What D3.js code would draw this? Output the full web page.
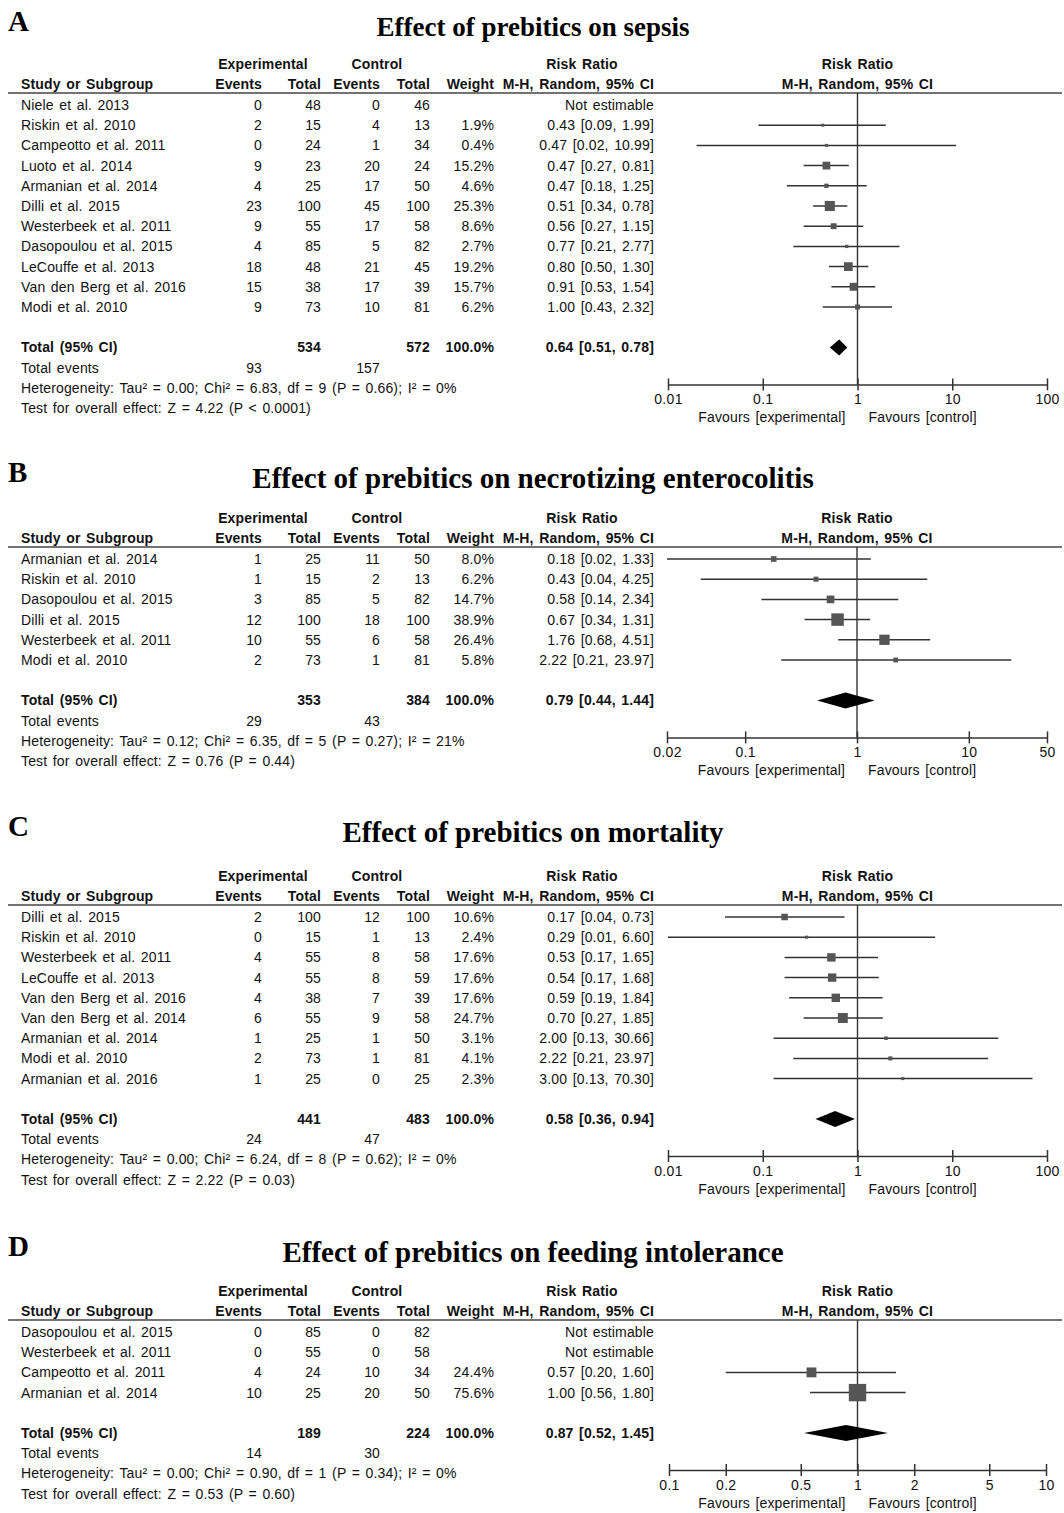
<!DOCTYPE html>
<html>
<head>
<meta charset="utf-8">
<script src="https://cdn.jsdelivr.net/npm/d3@7"></script>
<style>
  body { margin: 0; background: #fff; }
  text { font-family: "Liberation Sans", Arial, sans-serif; fill: #111; }
</style>
</head>
<body>
<div id="main"></div>
<script>

// ---- data ----

// A: sepsis
const sepsisStudy = ['Niele et al. 2013', 'Riskin et al. 2010', 'Campeotto et al. 2011', 'Luoto et al. 2014', 'Armanian et al. 2014', 'Dilli et al. 2015', 'Westerbeek et al. 2011', 'Dasopoulou et al. 2015', 'LeCouffe et al. 2013', 'Van den Berg et al. 2016', 'Modi et al. 2010'];
const sepsisExpEvents = [0, 2, 0, 9, 4, 23, 9, 4, 18, 15, 9];
const sepsisExpTotal = [48, 15, 24, 23, 25, 100, 55, 85, 48, 38, 73];
const sepsisCtrlEvents = [0, 4, 1, 20, 17, 45, 17, 5, 21, 17, 10];
const sepsisCtrlTotal = [46, 13, 34, 24, 50, 100, 58, 82, 45, 39, 81];
const sepsisWeight = [null, 1.9, 0.4, 15.2, 4.6, 25.3, 8.6, 2.7, 19.2, 15.7, 6.2];
const sepsisRR = [null, 0.43, 0.47, 0.47, 0.47, 0.51, 0.56, 0.77, 0.80, 0.91, 1.00];
const sepsisLow = [null, 0.09, 0.02, 0.27, 0.18, 0.34, 0.27, 0.21, 0.50, 0.53, 0.43];
const sepsisHigh = [null, 1.99, 10.99, 0.81, 1.25, 0.78, 1.15, 2.77, 1.30, 1.54, 2.32];
const sepsisTotals = [534, 572, 93, 157];
const sepsisPooled = [0.64, 0.51, 0.78];
const sepsisHetero = 'Heterogeneity: Tau\u00b2 = 0.00; Chi\u00b2 = 6.83, df = 9 (P = 0.66); I\u00b2 = 0%';
const sepsisTest = 'Test for overall effect: Z = 4.22 (P < 0.0001)';
const sepsisTicks = [0.01, 0.1, 1, 10, 100];

// B: necrotizing enterocolitis
const necStudy = ['Armanian et al. 2014', 'Riskin et al. 2010', 'Dasopoulou et al. 2015', 'Dilli et al. 2015', 'Westerbeek et al. 2011', 'Modi et al. 2010'];
const necExpEvents = [1, 1, 3, 12, 10, 2];
const necExpTotal = [25, 15, 85, 100, 55, 73];
const necCtrlEvents = [11, 2, 5, 18, 6, 1];
const necCtrlTotal = [50, 13, 82, 100, 58, 81];
const necWeight = [8.0, 6.2, 14.7, 38.9, 26.4, 5.8];
const necRR = [0.18, 0.43, 0.58, 0.67, 1.76, 2.22];
const necLow = [0.02, 0.04, 0.14, 0.34, 0.68, 0.21];
const necHigh = [1.33, 4.25, 2.34, 1.31, 4.51, 23.97];
const necTotals = [353, 384, 29, 43];
const necPooled = [0.79, 0.44, 1.44];
const necHetero = 'Heterogeneity: Tau\u00b2 = 0.12; Chi\u00b2 = 6.35, df = 5 (P = 0.27); I\u00b2 = 21%';
const necTest = 'Test for overall effect: Z = 0.76 (P = 0.44)';
const necTicks = [0.02, 0.1, 1, 10, 50];

// C: mortality
const mortStudy = ['Dilli et al. 2015', 'Riskin et al. 2010', 'Westerbeek et al. 2011', 'LeCouffe et al. 2013', 'Van den Berg et al. 2016', 'Van den Berg et al. 2014', 'Armanian et al. 2014', 'Modi et al. 2010', 'Armanian et al. 2016'];
const mortExpEvents = [2, 0, 4, 4, 4, 6, 1, 2, 1];
const mortExpTotal = [100, 15, 55, 55, 38, 55, 25, 73, 25];
const mortCtrlEvents = [12, 1, 8, 8, 7, 9, 1, 1, 0];
const mortCtrlTotal = [100, 13, 58, 59, 39, 58, 50, 81, 25];
const mortWeight = [10.6, 2.4, 17.6, 17.6, 17.6, 24.7, 3.1, 4.1, 2.3];
const mortRR = [0.17, 0.29, 0.53, 0.54, 0.59, 0.70, 2.00, 2.22, 3.00];
const mortLow = [0.04, 0.01, 0.17, 0.17, 0.19, 0.27, 0.13, 0.21, 0.13];
const mortHigh = [0.73, 6.60, 1.65, 1.68, 1.84, 1.85, 30.66, 23.97, 70.30];
const mortTotals = [441, 483, 24, 47];
const mortPooled = [0.58, 0.36, 0.94];
const mortHetero = 'Heterogeneity: Tau\u00b2 = 0.00; Chi\u00b2 = 6.24, df = 8 (P = 0.62); I\u00b2 = 0%';
const mortTest = 'Test for overall effect: Z = 2.22 (P = 0.03)';
const mortTicks = [0.01, 0.1, 1, 10, 100];

// D: feeding intolerance
const feedStudy = ['Dasopoulou et al. 2015', 'Westerbeek et al. 2011', 'Campeotto et al. 2011', 'Armanian et al. 2014'];
const feedExpEvents = [0, 0, 4, 10];
const feedExpTotal = [85, 55, 24, 25];
const feedCtrlEvents = [0, 0, 10, 20];
const feedCtrlTotal = [82, 58, 34, 50];
const feedWeight = [null, null, 24.4, 75.6];
const feedRR = [null, null, 0.57, 1.00];
const feedLow = [null, null, 0.20, 0.56];
const feedHigh = [null, null, 1.60, 1.80];
const feedTotals = [189, 224, 14, 30];
const feedPooled = [0.87, 0.52, 1.45];
const feedHetero = 'Heterogeneity: Tau\u00b2 = 0.00; Chi\u00b2 = 0.90, df = 1 (P = 0.34); I\u00b2 = 0%';
const feedTest = 'Test for overall effect: Z = 0.53 (P = 0.60)';
const feedTicks = [0.1, 0.2, 0.5, 1, 2, 5, 10];


// ---- layout ----

const w = 1064;
const h = 1513;
const rowH = 20.2;

const col = { name: 21, expEv: 262, expTot: 321, ctrlEv: 380, ctrlTot: 430, weight: 494, rr: 654 };

const panels = [
    { letter: 'A', title: 'Effect of prebitics on sepsis', titleY: 27, titleSize: 27, hl: 93, range: [668, 1047],
      study: sepsisStudy, ee: sepsisExpEvents, et: sepsisExpTotal, ce: sepsisCtrlEvents, ct: sepsisCtrlTotal,
      wt: sepsisWeight, rr: sepsisRR, lo: sepsisLow, hi: sepsisHigh,
      totals: sepsisTotals, pooled: sepsisPooled, hetero: sepsisHetero, test: sepsisTest, ticks: sepsisTicks },
    { letter: 'B', title: 'Effect of prebitics on necrotizing enterocolitis', titleY: 478, titleSize: 29, hl: 547, range: [667, 1047],
      study: necStudy, ee: necExpEvents, et: necExpTotal, ce: necCtrlEvents, ct: necCtrlTotal,
      wt: necWeight, rr: necRR, lo: necLow, hi: necHigh,
      totals: necTotals, pooled: necPooled, hetero: necHetero, test: necTest, ticks: necTicks },
    { letter: 'C', title: 'Effect of prebitics on mortality', titleY: 832, titleSize: 29, hl: 905, range: [668, 1047],
      study: mortStudy, ee: mortExpEvents, et: mortExpTotal, ce: mortCtrlEvents, ct: mortCtrlTotal,
      wt: mortWeight, rr: mortRR, lo: mortLow, hi: mortHigh,
      totals: mortTotals, pooled: mortPooled, hetero: mortHetero, test: mortTest, ticks: mortTicks },
    { letter: 'D', title: 'Effect of prebitics on feeding intolerance', titleY: 1252, titleSize: 29, hl: 1320, range: [669, 1046],
      study: feedStudy, ee: feedExpEvents, et: feedExpTotal, ce: feedCtrlEvents, ct: feedCtrlTotal,
      wt: feedWeight, rr: feedRR, lo: feedLow, hi: feedHigh,
      totals: feedTotals, pooled: feedPooled, hetero: feedHetero, test: feedTest, ticks: feedTicks }
];


const svg = d3.select('#main')
    .append('svg')
    .attr('width', w).attr('height', h)
    .style('background', '#fff');

// box side grows with the square root of the weight
const boxSize = d3.scaleSqrt().domain([0, 100]).range([0, 20]);

const rrText = (r, l, u) => r == null ? 'Not estimable' : `${r.toFixed(2)} [${l.toFixed(2)}, ${u.toFixed(2)}]`;


panels.forEach(p => {
    const g = svg.append('g');
    const txt = (x, y, s, anchor, bold) => g.append('text')
        .attr('x', x).attr('y', y).attr('dy', '0.35em')
        .style('font-size', '14px')
        .style('letter-spacing', '0.15px')
        .style('word-spacing', '1.5px')
        .style('font-weight', bold ? 'bold' : 'normal')
        .style('text-anchor', anchor || 'start')
        .text(s);

    // title + panel letter
    g.append('text').attr('x', 8).attr('y', p.titleY - 6).attr('dy', '0.35em')
        .style('font-family', '"Liberation Serif", "Times New Roman", serif')
        .style('font-size', '29px').style('font-weight', 'bold').style('fill', '#000')
        .text(p.letter);
    g.append('text').attr('x', 533).attr('y', p.titleY).attr('dy', '0.35em')
        .style('font-family', '"Liberation Serif", "Times New Roman", serif')
        .style('font-size', p.titleSize + 'px').style('font-weight', 'bold').style('fill', '#000')
        .style('text-anchor', 'middle')
        .text(p.title);

    const x = d3.scaleLog().domain([p.ticks[0], p.ticks[p.ticks.length - 1]]).range(p.range).clamp(true);
    const x1 = x(1);

    // header
    const h1 = p.hl - 29, h2 = p.hl - 9;
    txt(263, h1, 'Experimental', 'middle', true);
    txt(377, h1, 'Control', 'middle', true);
    txt(582, h1, 'Risk Ratio', 'middle', true);
    txt(x1, h1, 'Risk Ratio', 'middle', true);
    txt(col.name, h2, 'Study or Subgroup', 'start', true);
    txt(col.expEv, h2, 'Events', 'end', true);
    txt(col.expTot, h2, 'Total', 'end', true);
    txt(col.ctrlEv, h2, 'Events', 'end', true);
    txt(col.ctrlTot, h2, 'Total', 'end', true);
    txt(col.weight, h2, 'Weight', 'end', true);
    txt(col.rr, h2, 'M-H, Random, 95% CI', 'end', true);
    txt(x1, h2, 'M-H, Random, 95% CI', 'middle', true);

    g.append('line').attr('x1', 8).attr('x2', 1062).attr('y1', p.hl).attr('y2', p.hl)
        .attr('stroke', '#444').attr('stroke-width', 1.5);

    // study rows
    const rowY = i => p.hl + 12 + i * rowH;
    p.study.forEach((s, i) => {
        const y = rowY(i);
        txt(col.name, y, s);
        txt(col.expEv, y, p.ee[i], 'end');
        txt(col.expTot, y, p.et[i], 'end');
        txt(col.ctrlEv, y, p.ce[i], 'end');
        txt(col.ctrlTot, y, p.ct[i], 'end');
        if (p.wt[i] != null) txt(col.weight, y, p.wt[i].toFixed(1) + '%', 'end');
        txt(col.rr, y, rrText(p.rr[i], p.lo[i], p.hi[i]), 'end');
    });

    const n = p.study.length;
    const totY = rowY(n + 1);
    const axisY = totY + 37;

    // reference line at RR = 1
    g.append('line').attr('x1', x1).attr('x2', x1).attr('y1', p.hl).attr('y2', axisY)
        .attr('stroke', '#333').attr('stroke-width', 1.4);

    // CI whiskers and weight boxes
    const est = p.study.map((s, i) => ({ i, rr: p.rr[i], lo: p.lo[i], hi: p.hi[i], wt: p.wt[i] }))
        .filter(d => d.rr != null);

    g.selectAll('.ci').data(est).enter().append('line')
        .attr('x1', d => x(d.lo)).attr('x2', d => x(d.hi))
        .attr('y1', d => rowY(d.i)).attr('y2', d => rowY(d.i))
        .attr('stroke', '#333').attr('stroke-width', 1.5);

    g.selectAll('.box').data(est).enter().append('rect')
        .attr('x', d => x(d.rr) - Math.max(boxSize(d.wt), 3) / 2)
        .attr('y', d => rowY(d.i) - Math.max(boxSize(d.wt), 3) / 2)
        .attr('width', d => Math.max(boxSize(d.wt), 3))
        .attr('height', d => Math.max(boxSize(d.wt), 3))
        .attr('fill', '#555');

    // pooled diamond
    const [pr, pl, pu] = p.pooled;
    g.append('path')
        .attr('d', `M${x(pl)},${totY} L${x(pr)},${totY - 8} L${x(pu)},${totY} L${x(pr)},${totY + 8} Z`)
        .attr('fill', '#000');

    // totals rows
    txt(col.name, totY, 'Total (95% CI)', 'start', true);
    txt(col.expTot, totY, p.totals[0], 'end', true);
    txt(col.ctrlTot, totY, p.totals[1], 'end', true);
    txt(col.weight, totY, '100.0%', 'end', true);
    txt(col.rr, totY, rrText(pr, pl, pu), 'end', true);
    txt(col.name, totY + rowH, 'Total events');
    txt(col.expEv, totY + rowH, p.totals[2], 'end');
    txt(col.ctrlEv, totY + rowH, p.totals[3], 'end');
    txt(col.name, totY + 2 * rowH, p.hetero);
    txt(col.name, totY + 3 * rowH, p.test);

    // log axis with crossing ticks
    const xAxis = d3.axisBottom(x).tickValues(p.ticks).tickSizeOuter(0).tickFormat(d => String(d));
    const ax = g.append('g').attr('transform', `translate(0,${axisY})`).call(xAxis);
    ax.select('.domain').attr('stroke', '#333').attr('stroke-width', 1.5);
    ax.selectAll('.tick line').attr('y1', -6).attr('y2', 6).attr('stroke', '#333').attr('stroke-width', 1.5);
    ax.selectAll('.tick text').attr('y', 15).attr('dy', '0.35em')
        .style('font-family', '"Liberation Sans", Arial, sans-serif').style('font-size', '14px')
        .style('letter-spacing', '0.3px')
        .attr('fill', '#111');

    txt(x1 - 12, axisY + 33, 'Favours [experimental]', 'end');
    txt(x1 + 11, axisY + 33, 'Favours [control]', 'start');
});

</script>
</body>
</html>
